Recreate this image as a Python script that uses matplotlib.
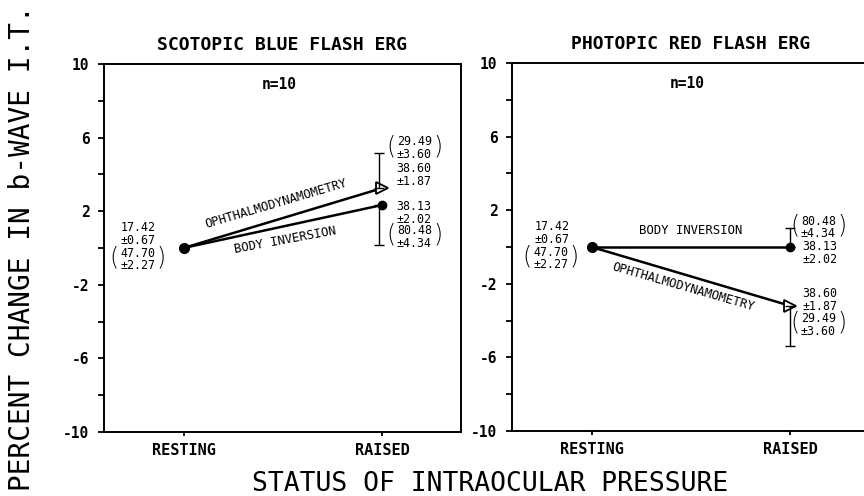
import matplotlib
matplotlib.use('Agg')
import matplotlib.pyplot as plt
from matplotlib.ticker import FixedLocator

plt.rcParams['font.family'] = ['DejaVu Sans Mono', 'DejaVu Sans']

# data
conditions = ['RESTING', 'RAISED']
xpos = [0, 1]

scot_ophthal = [0.0, 3.26]
scot_ophthal_up = 1.9
scot_body = [0.0, 2.34]
scot_body_down = 2.18

phot_body = [0.0, 0.0]
phot_body_up = 1.03
phot_ophthal = [0.0, -3.2]
phot_ophthal_down = 2.18

titles = ['SCOTOPIC BLUE FLASH ERG', 'PHOTOPIC RED FLASH ERG']
yticks_major = [10, 6, 2, -2, -6, -10]
yticks_minor = [8, 4, 0, -4, -8]

rest_ab = ('17.42', '\u00b10.67')
rest_bb = ('47.70', '\u00b12.27')
od_ab = ('38.60', '\u00b11.87')
od_bb = ('29.49', '\u00b13.60')
bi_ab = ('38.13', '\u00b12.02')
bi_bb = ('80.48', '\u00b14.34')

small = dict(ha='center', va='center', fontsize=8.4, linespacing=0.95)
label = dict(ha='center', va='center', fontsize=8.8)


def stacked(ax, x, y, pair):
    ax.text(x, y, pair[0] + '\n' + pair[1], **small)


def paren(ax, x, y, pair):
    # numbers in brackets: stacked text with tall thin brackets either side
    ax.text(x, y, pair[0] + '\n' + pair[1], **small)
    for sign, ch in [(-1, '('), (1, ')')]:
        ax.annotate(ch, (x, y), xytext=(sign * 17, 1.5), textcoords='offset points',
                    ha='center', va='center', fontsize=17, family='DejaVu Sans',
                    fontweight='light')


fig = plt.figure(figsize=(8.64, 4.96), dpi=100)
ax1 = fig.add_axes([104 / 864, 1 - 432 / 496, 357 / 864, 368 / 496])
ax2 = fig.add_axes([512 / 864, 1 - 431 / 496, 357 / 864, 368 / 496])

for ax, title in zip([ax1, ax2], titles):
    ax.set_xlim(-0.40, 1.395)
    ax.set_ylim(-10, 10)
    ax.set_xticks(xpos)
    ax.set_xticklabels(conditions, fontsize=11, fontweight='bold')
    ax.yaxis.set_major_locator(FixedLocator(yticks_major))
    ax.yaxis.set_minor_locator(FixedLocator(yticks_minor))
    ax.set_yticklabels([str(t) for t in yticks_major], fontsize=10.5, fontweight='bold')
    ax.tick_params(axis='y', which='both', direction='out', length=4.5, width=1.3, pad=6)
    ax.tick_params(axis='x', direction='out', length=3, width=1.3, pad=5)
    for s in ax.spines.values():
        s.set_linewidth(1.4)
    ax.set_title(title, fontsize=13, fontweight='bold', pad=10)
    ax.text(0.48, 8.9, 'n=10', ha='center', va='center', fontsize=10.5, fontweight='bold')

# left panel: scotopic
ax1.plot(xpos, scot_ophthal, color='k', lw=1.8)
ax1.plot(xpos, scot_body, color='k', lw=1.8)
ax1.plot(xpos[0], scot_body[0], 'o', color='k', ms=7)
ax1.plot(xpos[1], scot_body[1], 'o', color='k', ms=6)
ax1.plot(xpos[1], scot_ophthal[1], '>', mfc='white', mec='k', mew=1.3, ms=8)
ax1.errorbar(xpos[1] - 0.015, scot_ophthal[1], yerr=[[0], [scot_ophthal_up]], fmt='none',
             ecolor='k', elinewidth=1, capsize=3.5, capthick=1)
ax1.errorbar(xpos[1] - 0.015, scot_body[1], yerr=[[scot_body_down], [0]], fmt='none',
             ecolor='k', elinewidth=1, capsize=3.5, capthick=1)
stacked(ax1, -0.23, 0.76, rest_ab)
paren(ax1, -0.23, -0.62, rest_bb)
paren(ax1, 1.16, 5.43, od_bb)
stacked(ax1, 1.16, 3.97, od_ab)
stacked(ax1, 1.16, 1.9, bi_ab)
paren(ax1, 1.16, 0.6, bi_bb)
ax1.text(0.467, 2.42, 'OPHTHALMODYNAMOMETRY', rotation=16.5, **label)
ax1.text(0.51, 0.43, 'BODY INVERSION', rotation=10.5, **label)

# right panel: photopic
ax2.plot(xpos, phot_body, color='k', lw=1.8)
ax2.plot(xpos, phot_ophthal, color='k', lw=1.8)
ax2.plot(xpos[0], phot_body[0], 'o', color='k', ms=7)
ax2.plot(xpos[1], phot_body[1], 'o', color='k', ms=6)
ax2.plot(xpos[1], phot_ophthal[1], '>', mfc='white', mec='k', mew=1.3, ms=8)
ax2.errorbar(xpos[1], phot_body[1], yerr=[[0], [phot_body_up]], fmt='none',
             ecolor='k', elinewidth=1, capsize=3.5, capthick=1)
ax2.errorbar(xpos[1], phot_ophthal[1], yerr=[[phot_ophthal_down], [0]], fmt='none',
             ecolor='k', elinewidth=1, capsize=3.5, capthick=1)
stacked(ax2, -0.2, 0.76, rest_ab)
paren(ax2, -0.205, -0.62, rest_bb)
ax2.text(0.5, 0.92, 'BODY INVERSION', **label)
paren(ax2, 1.14, 1.06, bi_bb)
stacked(ax2, 1.15, -0.33, bi_ab)
stacked(ax2, 1.15, -2.88, od_ab)
paren(ax2, 1.14, -4.24, od_bb)
ax2.text(0.46, -2.15, 'OPHTHALMODYNAMOMETRY', rotation=-16, **label)

fig.text(22 / 864, 1 - 248 / 496, 'PERCENT CHANGE IN b-WAVE I.T.', rotation=90,
         ha='center', va='center', fontsize=20)
fig.text(490 / 864, 1 - 484 / 496, 'STATUS OF INTRAOCULAR PRESSURE',
         ha='center', va='center', fontsize=19)

fig.savefig('out.png', dpi=100)
